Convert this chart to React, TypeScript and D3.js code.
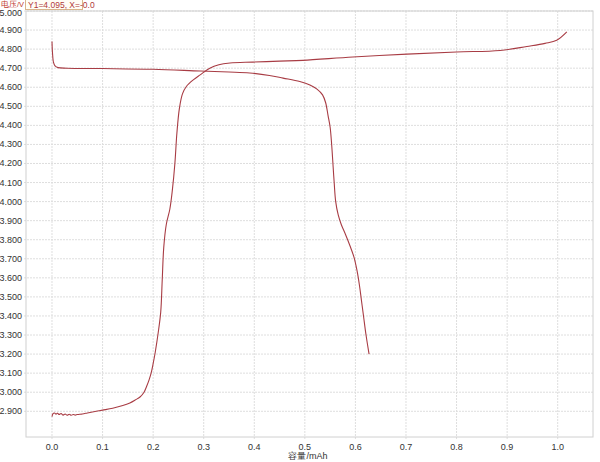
import React from "react";
import * as d3 from "d3";

const xTicks = [0, 0.1, 0.2, 0.3, 0.4, 0.5, 0.6, 0.7, 0.8, 0.9, 1.0];
const yTicks = d3.range(29, 51).map((v) => v / 10);

const chargeX = [0.000, 0.002, 0.005, 0.008, 0.011, 0.014, 0.018, 0.022, 0.026, 0.030, 0.034, 0.038, 0.042, 0.046, 0.050, 0.060, 0.070, 0.080, 0.090, 0.100, 0.120, 0.140, 0.154, 0.165, 0.174, 0.182, 0.187, 0.192, 0.196, 0.200, 0.204, 0.210, 0.215, 0.218, 0.221, 0.226, 0.233, 0.238, 0.243, 0.247, 0.252, 0.258, 0.266, 0.280, 0.293, 0.312, 0.330, 0.352, 0.397, 0.450, 0.496, 0.595, 0.702, 0.800, 0.886, 0.939, 0.975, 0.998, 1.018];
const chargeV = [2.872, 2.888, 2.891, 2.885, 2.890, 2.883, 2.888, 2.880, 2.886, 2.879, 2.884, 2.879, 2.883, 2.880, 2.883, 2.886, 2.891, 2.896, 2.901, 2.906, 2.916, 2.930, 2.944, 2.960, 2.975, 3.000, 3.030, 3.065, 3.100, 3.150, 3.207, 3.312, 3.420, 3.590, 3.760, 3.880, 3.960, 4.060, 4.200, 4.360, 4.490, 4.565, 4.605, 4.640, 4.665, 4.700, 4.718, 4.727, 4.732, 4.737, 4.741, 4.759, 4.774, 4.785, 4.793, 4.814, 4.830, 4.846, 4.890];

const dischargeX = [0.000, 0.001, 0.003, 0.006, 0.012, 0.030, 0.100, 0.200, 0.293, 0.350, 0.391, 0.430, 0.457, 0.490, 0.510, 0.524, 0.535, 0.541, 0.546, 0.550, 0.553, 0.556, 0.558, 0.561, 0.566, 0.572, 0.580, 0.589, 0.597, 0.603, 0.608, 0.612, 0.616, 0.621, 0.627];
const dischargeV = [4.840, 4.780, 4.730, 4.712, 4.703, 4.700, 4.698, 4.694, 4.685, 4.680, 4.675, 4.662, 4.648, 4.630, 4.612, 4.590, 4.560, 4.520, 4.450, 4.390, 4.300, 4.180, 4.100, 4.000, 3.930, 3.880, 3.830, 3.770, 3.710, 3.640, 3.560, 3.480, 3.400, 3.300, 3.200];

const W = 600;
const H = 462;
const L = 26, R = 593, T = 11, B = 437;

export default function App() {
  const x = d3.scaleLinear().domain([-0.0514, 1.0698]).range([L, R]);
  const y = d3.scaleLinear().domain([2.765, 5.0]).range([B, T]);
  const line = d3
    .line<[number, number]>()
    .x((d) => x(d[0]))
    .y((d) => y(d[1]))
    .curve(d3.curveCatmullRom.alpha(0.5));
  const charge = chargeX.map((v, i) => [v, chargeV[i]] as [number, number]);
  const discharge = dischargeX.map((v, i) => [v, dischargeV[i]] as [number, number]);
  const font = "'Liberation Sans', Arial, sans-serif";
  const lineColor = "#a83c44";
  return (
    <svg
      width={W}
      height={H}
      style={{ position: "absolute", left: 0, top: 0, background: "#fff" }}
      fontFamily={font}
    >
      <rect x={0} y={0} width={W} height={H} fill="#fff" />
      {yTicks.map((t) => (
        <g key={"y" + t}>
          <line x1={L - 2} x2={R} y1={y(t)} y2={y(t)} stroke="#dedede" strokeWidth={1} strokeDasharray="2,1" />
          <text x={L - 4} y={y(t) + (t === 5 ? 4.5 : 3)} textAnchor="end" fontSize={9} fill="#333">
            {t.toFixed(3)}
          </text>
        </g>
      ))}
      {xTicks.map((t) => (
        <g key={"x" + t}>
          <line x1={x(t)} x2={x(t)} y1={T} y2={B + 2} stroke="#dedede" strokeWidth={1} strokeDasharray="2,1" />
          <text x={x(t)} y={B + 13} textAnchor="middle" fontSize={9} fill="#333">
            {t.toFixed(1)}
          </text>
        </g>
      ))}
      <rect x={L} y={T} width={R - L} height={B - T} fill="none" stroke="#d0d0d0" strokeWidth={1} />
      <path d={line(charge) || ""} fill="none" stroke={lineColor} strokeWidth={1.1} />
      <path d={line(discharge) || ""} fill="none" stroke={lineColor} strokeWidth={1.1} />
      <text x={308} y={459} textAnchor="middle" fontSize={9} fill="#333">
        容量/mAh
      </text>
      <text x={24} y={7} textAnchor="end" fontSize={7.5} fill="#c0392b">
        电压/V
      </text>
      <rect x={25.5} y={-0.5} width={57} height={10} fill="#fffdf5" stroke="#d8b48a" strokeWidth={1} />
      <text x={28} y={7.5} fontSize={8.5} fill="#b03a3a">
        Y1=4.095, X=-0.0
      </text>
    </svg>
  );
}
